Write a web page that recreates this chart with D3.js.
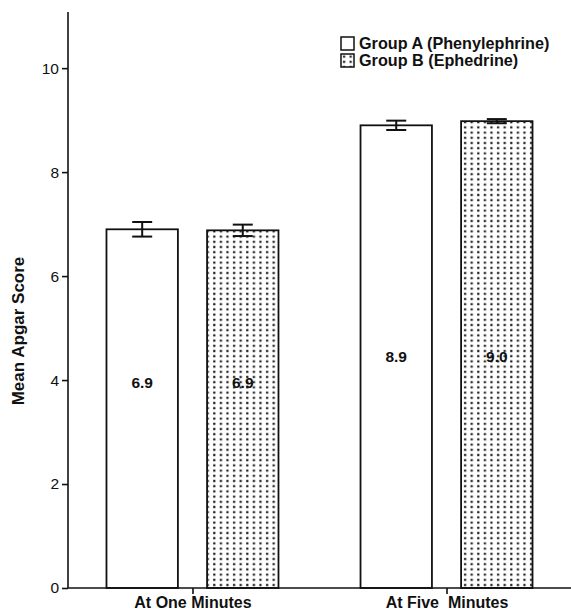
<!DOCTYPE html>
<html lang="en">
<head>
<meta charset="UTF-8">
<title>Mean Apgar Score</title>
<script src="https://d3js.org/d3.v7.min.js"></script>
<style>
  body { margin: 0; background: #fff; }
  text { font-family: "Liberation Sans", Arial, sans-serif; fill: #111; }
</style>
</head>
<body>
<div id="chart"></div>
<script>
// data
var groups = ["At One Minutes", "At Five  Minutes"];
var series = ["Group A (Phenylephrine)", "Group B (Ephedrine)"];
var meanA = [6.90, 8.90];
var meanB = [6.88, 8.98];
var errA = [0.14, 0.09];
var errB = [0.11, 0.04];
var barLabelsA = ["6.9", "8.9"];
var barLabelsB = ["6.9", "9.0"];
var labelAt = [3.95, 4.45];   // value where the in-bar label sits
var yTicks = [0, 2, 4, 6, 8, 10];

var width = 571, height = 616;

var svg = d3.select("#chart").append("svg")
    .attr("width", width)
    .attr("height", height);

// dotted fill for group B
var defs = svg.append("defs");
var pat = defs.append("pattern")
    .attr("id", "dots")
    .attr("patternUnits", "userSpaceOnUse")
    .attr("width", 6.6)
    .attr("height", 5.2);
pat.append("rect").attr("width", 6.6).attr("height", 5.2).attr("fill", "#fff");
pat.append("rect").attr("x", 2).attr("y", 1.5).attr("width", 2.2).attr("height", 2.2).attr("fill", "#222");

var y = d3.scaleLinear().domain([0, 11.08]).range([588, 12]);
var x = d3.scalePoint().domain(groups).range([68, 571]).padding(0.49);
var xs = d3.scaleBand().domain(series).range([-86, 86]).paddingInner(0.29);

// build rows
var rows = [];
groups.forEach(function(g, i) {
  rows.push({g: g, s: series[0], mean: meanA[i], err: errA[i], label: barLabelsA[i], la: labelAt[i]});
  rows.push({g: g, s: series[1], mean: meanB[i], err: errB[i], label: barLabelsB[i], la: labelAt[i]});
});

// bars
svg.append("g").selectAll("rect").data(rows).join("rect")
    .attr("x", d => x(d.g) + xs(d.s))
    .attr("y", d => y(d.mean))
    .attr("width", xs.bandwidth())
    .attr("height", d => y(0) - y(d.mean))
    .attr("fill", d => d.s === series[0] ? "#fff" : "url(#dots)")
    .attr("stroke", "#111")
    .attr("stroke-width", 1.8);

// error bars
var eb = svg.append("g").attr("stroke", "#111").attr("stroke-width", 2);
rows.forEach(function(d) {
  var cx = x(d.g) + xs(d.s) + xs.bandwidth() / 2;
  eb.append("line").attr("x1", cx).attr("x2", cx).attr("y1", y(d.mean + d.err)).attr("y2", y(d.mean - d.err));
  eb.append("line").attr("x1", cx - 10).attr("x2", cx + 10).attr("y1", y(d.mean + d.err)).attr("y2", y(d.mean + d.err));
  eb.append("line").attr("x1", cx - 10).attr("x2", cx + 10).attr("y1", y(d.mean - d.err)).attr("y2", y(d.mean - d.err));
});

// value labels
svg.append("g").selectAll("text").data(rows).join("text")
    .attr("x", d => x(d.g) + xs(d.s) + xs.bandwidth() / 2)
    .attr("y", d => y(d.la))
    .attr("dy", "0.35em")
    .attr("text-anchor", "middle")
    .attr("font-weight", "bold")
    .attr("font-size", 15.5)
    .text(d => d.label);

// y axis
var yAxis = svg.append("g")
    .attr("transform", "translate(68,0)")
    .call(d3.axisLeft(y).tickValues(yTicks).tickSize(6).tickPadding(3));
yAxis.select(".domain").attr("d", "M0," + y(11.08) + "V" + y(0)).attr("stroke", "#111").attr("stroke-width", 1.6);
yAxis.selectAll(".tick line").attr("stroke", "#111").attr("stroke-width", 1.6);
yAxis.selectAll(".tick text").attr("font-size", 15.5).attr("fill", "#111")
    .style("font-family", "'Liberation Sans', Arial, sans-serif");

// x axis
var xAxis = svg.append("g")
    .attr("transform", "translate(0," + y(0) + ")")
    .call(d3.axisBottom(x).tickSize(6).tickPadding(3));
xAxis.select(".domain").attr("d", "M68,0H571").attr("stroke", "#111").attr("stroke-width", 1.6);
xAxis.selectAll(".tick line").attr("stroke", "#111").attr("stroke-width", 1.6);
xAxis.selectAll(".tick text").attr("font-size", 16).attr("font-weight", "bold").attr("fill", "#111")
    .style("white-space", "pre")
    .style("font-family", "'Liberation Sans', Arial, sans-serif");

// y axis title
svg.append("text")
    .attr("transform", "translate(24," + 331 + ") rotate(-90)")
    .attr("text-anchor", "middle")
    .attr("font-weight", "bold")
    .attr("font-size", 17)
    .text("Mean Apgar Score");

// legend
var legend = svg.append("g").attr("transform", "translate(341,37)");
series.forEach(function(s, i) {
  var row = legend.append("g").attr("transform", "translate(0," + i * 17 + ")");
  row.append("rect").attr("width", 13).attr("height", 13)
      .attr("fill", i === 0 ? "#fff" : "url(#dots)")
      .attr("stroke", "#111").attr("stroke-width", 1.5);
  row.append("text").attr("x", 18).attr("y", 12)
      .attr("font-weight", "bold").attr("font-size", 16.2)
      .text(s);
});
</script>
</body>
</html>
